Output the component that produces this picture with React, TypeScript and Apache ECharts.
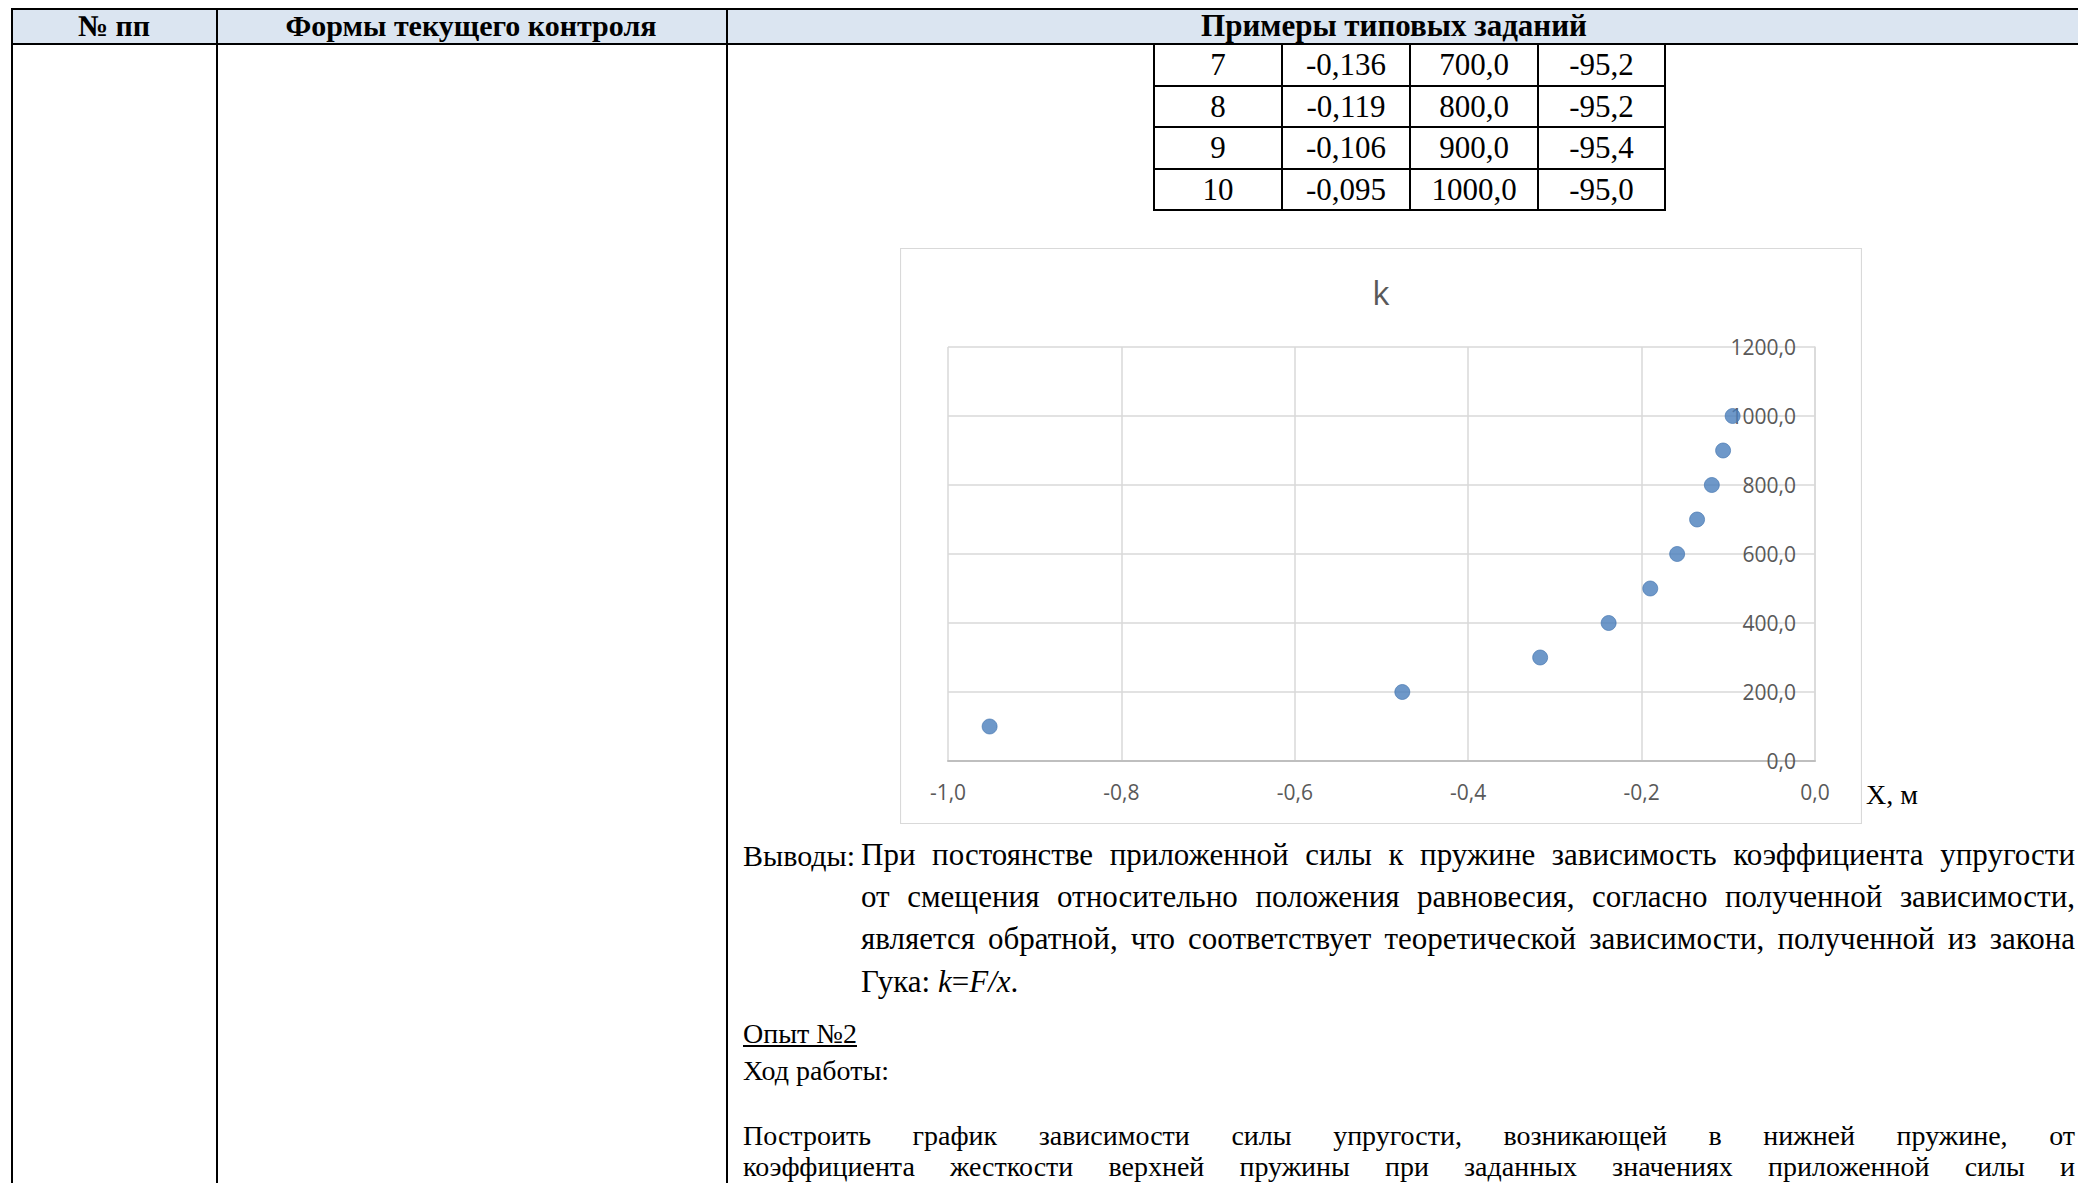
import React, { useEffect, useLayoutEffect, useRef, useState } from "react";
import * as echarts from "echarts";

// ---- chart data (x displacement, k coefficient) ----
const xValues = [-0.952, -0.476, -0.317, -0.238, -0.19, -0.159, -0.136, -0.119, -0.106, -0.095];
const kValues = [100, 200, 300, 400, 500, 600, 700, 800, 900, 1000];
const chartTitle = "k";

// ---- data table fragment above the chart ----
const tableNums = ["7", "8", "9", "10"];
const tableX = ["-0,136", "-0,119", "-0,106", "-0,095"];
const tableK = ["700,0", "800,0", "900,0", "1000,0"];
const tableF = ["-95,2", "-95,2", "-95,4", "-95,0"];

// ---- header labels ----
const headers = ["№ пп", "Формы текущего контроля", "Примеры типовых заданий"];

const SERIF = "'Liberation Serif', 'Times New Roman', serif";
const SANS = "'Open Sans', 'Noto Sans', sans-serif";
const fmt = (v: number) => v.toFixed(1).replace(".", ",").replace("-0,0", "0,0");

function Chart() {
  const ref = useRef<HTMLDivElement>(null);
  useEffect(() => {
    if (!ref.current) return;
    const chart = echarts.init(ref.current, undefined, { renderer: "svg" });
    const labelStyle = { color: "#595959", fontSize: 21, fontFamily: SANS };
    chart.setOption({
      animation: false,
      backgroundColor: "#ffffff",
      title: {
        text: chartTitle,
        left: "center",
        top: 23,
        textStyle: { fontFamily: SANS, fontSize: 33, fontWeight: "normal", color: "#595959" },
      },
      grid: { left: 48, right: 47, top: 99, bottom: 63 },
      xAxis: {
        type: "value",
        min: -1,
        max: 0,
        interval: 0.2,
        axisLine: { show: true, onZero: false, lineStyle: { color: "#bfbfbf", width: 2 } },
        axisTick: { show: false },
        splitLine: { show: true, lineStyle: { color: "#d9d9d9", width: 1.5 } },
        axisLabel: { ...labelStyle, margin: 20, formatter: fmt },
      },
      yAxis: {
        type: "value",
        position: "right",
        min: 0,
        max: 1200,
        interval: 200,
        axisLine: { show: true, lineStyle: { color: "#d9d9d9", width: 1.5 } },
        axisTick: { show: false },
        splitLine: { show: true, lineStyle: { color: "#d9d9d9", width: 1.5 } },
        axisLabel: { ...labelStyle, inside: true, margin: 19, formatter: fmt },
      },
      series: [
        {
          type: "scatter",
          data: xValues.map((x, i) => [x, kValues[i]]),
          symbol: "circle",
          symbolSize: 15,
          itemStyle: { color: "#4a7ebb", borderColor: "#3f71ad", borderWidth: 0.8 },
          z: 5,
        },
      ],
      graphic: [
        {
          type: "rect",
          silent: true,
          shape: { x: 0.5, y: 0.5, width: 961, height: 575 },
          style: { fill: "none", stroke: "#d9d9d9", lineWidth: 1.2 },
        },
      ],
    });
    return () => chart.dispose();
  }, []);
  return (
    <div
      ref={ref}
      style={{ position: "absolute", left: 900, top: 248, width: 962, height: 576 }}
    />
  );
}

const abs = (s: React.CSSProperties): React.CSSProperties => ({ position: "absolute", ...s });

type LineProps = {
  left: number;
  top: number;
  right?: number;
  size: number;
  lh: number;
  children: React.ReactNode;
};

// one text line; if `right` is given the line is justified to end exactly there
function Line({ left, top, right, size, lh, children }: LineProps) {
  const ref = useRef<HTMLSpanElement>(null);
  const [ws, setWs] = useState(0);
  useLayoutEffect(() => {
    if (right === undefined || !ref.current) return;
    const span = ref.current;
    span.style.wordSpacing = "0px";
    const w = span.getBoundingClientRect().width;
    const gaps = (span.textContent || "").split(" ").length - 1;
    if (gaps > 0) setWs((right - left - w) / gaps);
  }, []);
  return (
    <div
      style={abs({
        left,
        top,
        fontFamily: SERIF,
        fontSize: size,
        lineHeight: lh + "px",
        whiteSpace: "nowrap",
        color: "#000",
      })}
    >
      <span ref={ref} style={{ wordSpacing: ws }}>
        {children}
      </span>
    </div>
  );
}

export default function App() {
  const colX = [1154, 1282, 1410, 1538, 1665];
  const rowY = [44, 86, 127, 169, 210];
  const cols = [tableNums, tableX, tableK, tableF];
  const R = 2075;
  return (
    <div
      style={{
        position: "fixed",
        left: 0,
        top: 0,
        width: 2078,
        height: 1183,
        overflow: "hidden",
        background: "#fff",
      }}
    >
      {/* header band */}
      <div style={abs({ left: 12, top: 10, width: 2070, height: 33, background: "#dbe5f1" })} />
      <div style={abs({ left: 11, top: 8, width: 2070, height: 2, background: "#000" })} />
      <div style={abs({ left: 11, top: 43, width: 2070, height: 2, background: "#000" })} />
      {[11, 216, 726].map((x) => (
        <div key={x} style={abs({ left: x, top: 8, width: 2, height: 1200, background: "#000" })} />
      ))}
      {[
        [114, headers[0], 30],
        [471, headers[1], 30],
        [1394, headers[2], 31],
      ].map(([cx, t, fs]) => (
        <div
          key={String(t)}
          style={abs({
            left: (cx as number) - 300,
            width: 600,
            top: 9,
            textAlign: "center",
            fontFamily: SERIF,
            fontWeight: "bold",
            fontSize: fs as number,
            lineHeight: "33px",
            whiteSpace: "nowrap",
          })}
        >
          {t}
        </div>
      ))}

      {/* data table */}
      {colX.map((x) => (
        <div key={"v" + x} style={abs({ left: x - 1, top: 44, width: 2, height: 167, background: "#000" })} />
      ))}
      {rowY.slice(1).map((y) => (
        <div
          key={"h" + y}
          style={abs({ left: colX[0] - 1, top: y - 1, width: colX[4] - colX[0] + 2, height: 2, background: "#000" })}
        />
      ))}
      {cols.map((col, ci) =>
        col.map((t, ri) => (
          <div
            key={ci + "-" + ri}
            style={abs({
              left: colX[ci],
              width: colX[ci + 1] - colX[ci],
              top: rowY[ri] + (rowY[ri + 1] - rowY[ri]) / 2 - 18,
              textAlign: "center",
              fontFamily: SERIF,
              fontSize: 31,
              lineHeight: "36px",
              whiteSpace: "nowrap",
            })}
          >
            {t}
          </div>
        ))
      )}

      <Chart />

      <Line left={1866} top={779} size={28} lh={32}>
        X, м
      </Line>
      <Line left={743} top={835} size={30} lh={42}>
        Выводы:
      </Line>
      <Line left={861} top={834} right={R} size={31} lh={42}>
        При постоянстве приложенной силы к пружине зависимость коэффициента упругости
      </Line>
      <Line left={861} top={876} right={R} size={31} lh={42}>
        от смещения относительно положения равновесия, согласно полученной зависимости,
      </Line>
      <Line left={861} top={918} right={R} size={31} lh={42}>
        является обратной, что соответствует теоретической зависимости, полученной из закона
      </Line>
      <Line left={861} top={961} size={31} lh={42}>
        Гука: <i>k</i>=<i>F/x</i>.
      </Line>
      <Line left={743} top={1015} size={28} lh={37}>
        <span style={{ textDecoration: "underline" }}>Опыт №2</span>
      </Line>
      <Line left={743} top={1052} size={28} lh={37}>
        Ход работы:
      </Line>
      <Line left={743} top={1122} right={R} size={28} lh={28}>
        Построить график зависимости силы упругости, возникающей в нижней пружине, от
      </Line>
      <Line left={743} top={1153} right={R} size={28} lh={28}>
        коэффициента жесткости верхней пружины при заданных значениях приложенной силы и
      </Line>
    </div>
  );
}
